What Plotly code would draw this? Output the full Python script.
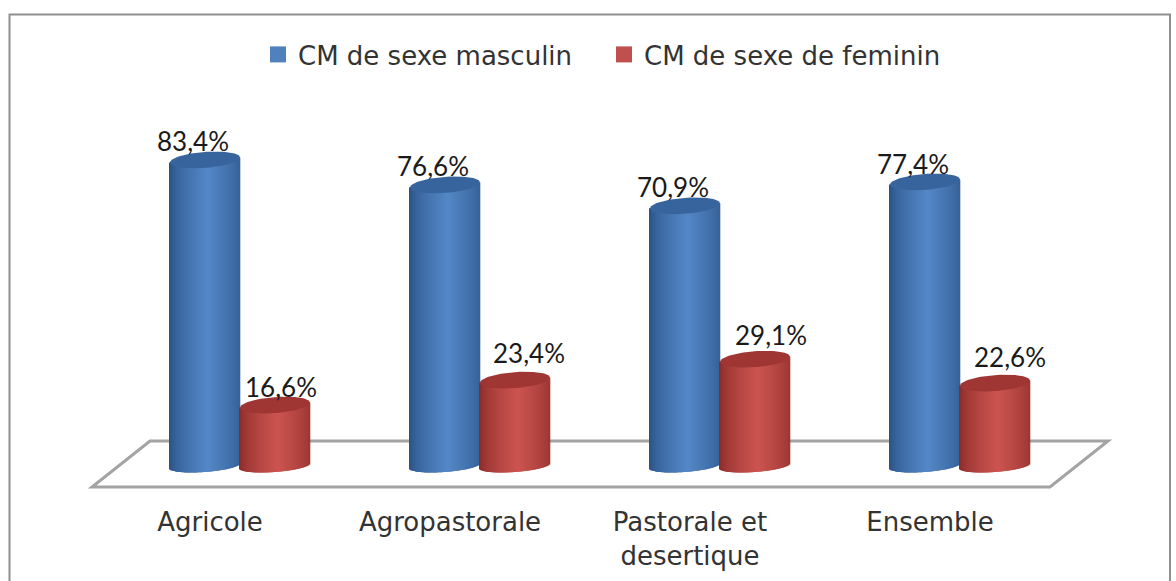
import numpy as np
import plotly.graph_objects as go

CATEGORIES = ["Agricole", "Agropastorale", "Pastorale et<br>desertique", "Ensemble"]
SERIES_NAMES = ["CM de sexe masculin", "CM de sexe de feminin"]
MALE = [83.4, 76.6, 70.9, 77.4]
FEMALE = [16.6, 23.4, 29.1, 22.6]

W, H = 1176, 581
FONT = "DejaVu Sans"
LABEL_FONT = "Lato"
PX_PER_CAT = 240.0
PX_PER_UNIT = 3.67
X0_PX = 210.0
Y0_PX = 466.0
xr = [-X0_PX / PX_PER_CAT, (W - X0_PX) / PX_PER_CAT]
yr = [(Y0_PX - H) / PX_PER_UNIT, Y0_PX / PX_PER_UNIT]

HALF = 35 / PX_PER_CAT
B = 8 / PX_PER_UNIT
B_BOTTOM = 6 / PX_PER_UNIT
TILT = 2.5 / PX_PER_UNIT
SERIES_OFFSET = [-5 / PX_PER_CAT, 65 / PX_PER_CAT]
LABEL_DX = [[-12, -12, -12, -12], [6, 14, 16, 15]]
LABEL_DY = [[15, 15, 15, 14], [15, 24, 21, 23]]
PALETTE = [
    dict(edge=(38, 78, 128), mid=(84, 135, 198), top=(56, 100, 158), legend="#4f81bd"),
    dict(edge=(132, 40, 38), mid=(204, 84, 80), top=(160, 54, 52), legend="#c0504d"),
]
N = 70


def shade(c, t):
    k = (1 - abs(t - 0.1) / 1.1) ** 0.6
    return "rgb(%d,%d,%d)" % tuple(c["edge"][i] + (c["mid"][i] - c["edge"][i]) * k for i in range(3))


fig = go.Figure()
ts = (np.arange(N) + 0.5) / N * 2 - 1
for s, vals in enumerate([MALE, FEMALE]):
    c = PALETTE[s]
    fig.add_trace(go.Scatter(x=[None], y=[None], mode="markers", name=SERIES_NAMES[s],
                             marker=dict(symbol="square", size=16, color=c["legend"])))
    for i, v in enumerate(vals):
        cx = i + SERIES_OFFSET[s]
        arc = np.sqrt(1 - ts ** 2)
        base = -B_BOTTOM * arc + TILT * ts
        top = v + TILT * ts
        fig.add_trace(go.Bar(x=cx + ts * HALF, y=top - base, base=base,
                             width=2 * HALF / N * 1.6, showlegend=False, hoverinfo="skip",
                             marker=dict(color=[shade(c, t) for t in ts], line=dict(width=0))))
        th = np.linspace(0, 2 * np.pi, 80)
        fig.add_trace(go.Scatter(x=cx + HALF * np.cos(th), y=v + B * np.sin(th) + TILT * np.cos(th),
                                 mode="lines", fill="toself", fillcolor="rgb(%d,%d,%d)" % c["top"],
                                 line=dict(width=0, color="rgb(%d,%d,%d)" % c["top"]),
                                 showlegend=False, hoverinfo="skip"))

for s, vals in enumerate([MALE, FEMALE]):
    fig.add_trace(go.Scatter(
        x=[i + SERIES_OFFSET[s] + LABEL_DX[s][i] / PX_PER_CAT for i in range(len(vals))],
        y=[v + LABEL_DY[s][i] / PX_PER_UNIT for i, v in enumerate(vals)],
        text=[f"{v:.1f}".replace(".", ",") + "%" for v in vals],
        mode="text", textposition="middle center",
        textfont=dict(family=LABEL_FONT, size=26, color="#1a1a1a"),
        showlegend=False, hoverinfo="skip"))


def P(x, y):
    return x / W, 1 - y / H


def path(pts, close=False):
    s = "M " + " L ".join("%.5f %.5f" % P(*p) for p in pts)
    return s + (" Z" if close else "")


shapes = [
    dict(type="path", xref="paper", yref="paper", layer="below",
         path=path([(92, 487), (1050, 487), (1108, 441), (150, 441)], True),
         line=dict(color="#a3a3a3", width=3), fillcolor="#ffffff"),
    dict(type="path", xref="paper", yref="paper", layer="below",
         path=path([(9.5, 585), (9.5, 14.5), (1170, 14.5), (1170, 585)]),
         line=dict(color="#8f8f8f", width=2)),
]

fig.update_layout(
    width=W, height=H, margin=dict(l=0, r=0, t=0, b=0), autosize=False,
    paper_bgcolor="white", plot_bgcolor="rgba(0,0,0,0)", barmode="overlay",
    shapes=shapes,
    font=dict(family=FONT, size=26, color="#333333"),
    xaxis=dict(range=xr, tickmode="array", tickvals=list(range(4)), ticktext=CATEGORIES,
               showgrid=False, zeroline=False, showline=False, ticks="",
               anchor="free", position=1 - 504 / H, automargin=False,
               tickfont=dict(family=FONT, size=26, color="#333333")),
    yaxis=dict(range=yr, visible=False, showgrid=False, zeroline=False),
    legend=dict(orientation="h", x=258 / W, y=1 - 31 / H, xanchor="left", yanchor="top",
                font=dict(family=FONT, size=26, color="#333333"),
                itemsizing="trace", itemwidth=30, entrywidth=301, entrywidthmode="pixels",
                bgcolor="rgba(0,0,0,0)", tracegroupgap=0),
    showlegend=True,
)
fig.write_html("out.html", post_script="document.body.style.margin='0';",
               config={"displayModeBar": False})
